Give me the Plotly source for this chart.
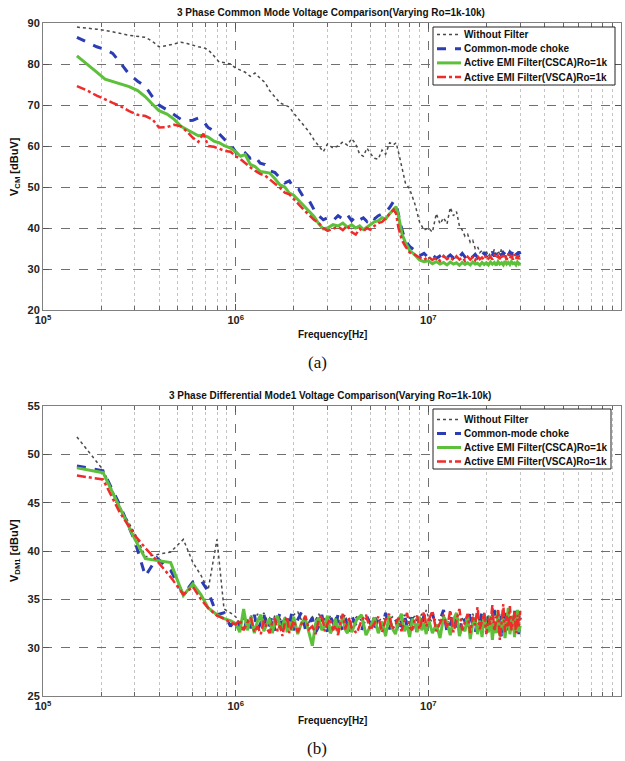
import plotly.graph_objects as go

# ---------------- data: plot (a) common-mode ----------------
freq_a_mhz = [0.15, 0.17, 0.19, 0.21, 0.23, 0.25, 0.28, 0.31, 0.34, 0.37,
              0.40, 0.44, 0.48, 0.52, 0.56, 0.60, 0.64, 0.68, 0.72, 0.77,
              0.82, 0.88, 0.94, 1.0, 1.06, 1.12, 1.19, 1.26, 1.34, 1.42,
              1.5, 1.6, 1.7, 1.8, 1.9, 2.0, 2.12, 2.25, 2.4, 2.55,
              2.7, 2.85, 3.0, 3.2, 3.4, 3.6, 3.8, 4.0, 4.2, 4.4,
              4.6, 4.8, 5.0, 5.25, 5.5, 5.75, 6.0, 6.3, 6.6, 6.8,
              7.0, 7.3, 7.6,
              8.0, 8.5, 9.0, 9.5, 10.0, 10.5, 11.0, 11.5, 12.0, 12.5,
              13.0, 13.5, 14.0, 14.5, 15.0, 15.5, 16.0, 16.5, 17.0, 17.5,
              18.0, 18.5, 19.0, 19.5, 20.0, 20.5, 21.0, 21.5, 22.0, 22.5,
              23.0, 23.5, 24.0, 24.5, 25.0, 25.5, 26.0, 26.5, 27.0, 27.5,
              28.0, 28.5, 29.0, 29.5, 30.0]

cm_without = [89.0, 88.8, 88.5, 88.2, 87.9, 87.5, 87.0, 86.8, 86.5, 85.5,
              84.2, 84.5, 85.0, 85.3, 85.0, 84.5, 84.2, 84.0, 83.5, 82.0,
              80.5, 80.3, 80.0, 79.0, 78.5, 78.0, 77.0, 77.8, 76.5, 75.5,
              73.5, 72.0, 70.5, 70.0, 69.5, 68.0, 66.5, 65.0, 63.5, 61.5,
              60.0, 58.6, 60.5, 59.5, 60.0, 61.0, 60.2, 61.8, 60.5, 58.0,
              57.5, 59.5, 58.2, 57.0, 56.8, 59.0, 58.0, 60.8, 60.3, 60.8,
              58.5, 55.0, 51.0,
              49.5, 46.0, 41.5, 39.5, 40.0, 39.0, 43.5, 41.0, 42.5, 41.0,
              45.0, 43.0, 44.0, 40.5, 39.5, 38.0, 38.5, 36.5, 37.0, 35.0,
              35.5, 34.0, 34.5, 33.5, 34.3, 33.0, 34.0, 33.2, 34.8, 33.0,
              34.5, 33.5, 35.0, 33.2, 34.0, 32.8, 33.8, 33.0, 34.2, 32.8,
              33.6, 33.0, 34.0, 32.9, 33.5]

cm_choke = [86.5, 85.3, 84.2, 83.5, 82.6, 80.5, 77.5, 75.8, 74.5, 72.0,
            70.0, 68.8, 67.5, 66.5, 66.2, 66.3, 66.8, 66.0, 64.5, 63.8,
            63.0, 61.5, 60.5, 58.5, 57.5, 58.3, 57.0, 57.5, 55.8, 55.5,
            54.0, 53.5, 52.2, 51.0, 51.5, 49.8, 49.5, 47.5, 46.8, 44.5,
            43.0, 42.0, 42.5, 41.8, 43.0, 42.2, 43.2, 41.8, 42.8, 42.0,
            42.5, 41.6, 42.8, 42.2, 43.0, 43.5, 43.8, 45.0, 46.5, 45.8,
            43.0, 39.5, 37.0,
            35.5, 34.5, 33.2, 33.8, 32.8, 33.5, 32.6, 33.2, 33.8, 32.8,
            33.4, 32.7, 33.6, 33.0, 33.8, 32.9, 33.3, 34.0, 33.0, 33.6,
            32.8, 33.7, 33.2, 34.1, 33.0, 33.8, 33.3, 34.2, 33.1, 33.9,
            33.4, 34.3, 33.2, 34.0, 33.5, 34.4, 33.3, 34.1, 33.6, 34.3,
            33.2, 34.0, 33.5, 34.2, 33.6]

cm_csca = [82.0, 80.0, 78.0, 76.3, 75.7, 75.2, 74.5, 73.5, 72.0, 70.2,
           68.6, 67.8, 66.5, 64.8, 64.0, 63.2, 62.5, 62.6, 62.2, 61.2,
           60.8, 60.0, 59.5, 58.6, 57.5, 57.9, 55.5, 55.0, 53.8, 53.6,
           53.4, 52.0, 50.5, 50.0, 48.5, 48.0, 46.8, 45.5, 44.0, 42.8,
           41.0, 39.8, 40.0, 40.8, 40.5, 41.2, 40.2, 40.8, 40.0, 40.5,
           39.6, 40.3, 40.8, 41.5, 41.8, 42.5, 42.2, 43.5, 44.6, 45.2,
           43.0, 38.5, 36.5,
           34.5, 33.5, 32.2, 31.8, 32.0, 31.3, 31.8, 31.2, 31.6, 31.0,
           31.7, 31.2, 31.5, 30.9, 31.6, 31.1, 31.5, 31.0, 31.7, 31.2,
           31.4, 30.9, 31.6, 31.1, 31.5, 31.0, 31.7, 31.2, 31.6, 30.9,
           31.8, 31.2, 31.5, 31.0, 31.9, 31.2, 31.6, 31.1, 31.8, 31.3,
           31.5, 31.0, 31.7, 31.2, 31.6]

cm_vsca = [74.6, 73.5, 72.3, 71.3, 70.5, 69.8, 68.5, 67.6, 67.3, 66.5,
           64.5, 64.6, 65.2, 64.8, 63.5, 62.0, 61.0, 63.0, 60.0, 59.8,
           59.3, 58.8, 58.6, 57.5, 56.8, 55.8, 54.8, 54.0, 53.2, 52.8,
           51.8, 50.8, 49.8, 48.6, 48.2, 47.0, 45.8, 44.5, 43.2, 42.0,
           41.2, 40.0, 39.3, 39.8, 40.3, 39.5, 40.6, 39.0, 38.4, 39.8,
           39.2, 40.0, 39.6, 40.5, 41.2, 41.5, 42.3, 43.5, 44.5, 43.5,
           40.0, 37.0, 35.5,
           34.0, 33.5, 32.8, 32.2, 33.0, 32.2, 32.8, 32.0, 33.2, 32.4,
           32.9, 32.1, 33.1, 32.3, 32.8, 32.0, 33.0, 32.3, 32.9, 32.1,
           33.2, 32.4, 32.8, 32.2, 33.4, 32.5, 33.0, 32.3, 33.5, 32.6,
           33.2, 32.4, 33.6, 32.5, 33.3, 32.2, 33.7, 32.6, 33.4, 32.3,
           33.6, 32.5, 33.3, 32.4, 33.2]

# ---------------- data: plot (b) differential-mode ----------------
freq_b_mhz = [0.15, 0.205, 0.25, 0.3, 0.34, 0.39, 0.46, 0.535, 0.6, 0.66,
              0.72, 0.8, 0.87, 0.94,
              1.0, 1.05, 1.1, 1.15, 1.2, 1.25, 1.3, 1.35, 1.4, 1.45,
              1.5, 1.55, 1.6, 1.65, 1.7, 1.75, 1.8, 1.85, 1.9, 1.95,
              2.0, 2.1, 2.2, 2.3, 2.4, 2.5, 2.6, 2.7, 2.8, 2.9,
              3.0, 3.1, 3.2, 3.3, 3.4, 3.5, 3.6, 3.7, 3.8, 3.9,
              4.0, 4.25, 4.5, 4.75, 5.0, 5.25, 5.5, 5.75, 6.0, 6.25,
              6.5, 6.75, 7.0, 7.25, 7.5, 7.75, 8.0, 8.25, 8.5, 8.75,
              9.0, 9.25, 9.5, 9.75,
              10.0, 10.5, 11.0, 11.5, 12.0, 12.5, 13.0, 13.5, 14.0, 14.5,
              15.0, 15.5, 16.0, 16.5, 17.0, 17.5, 18.0, 18.5, 19.0, 19.5,
              20.0, 20.5, 21.0, 21.5, 22.0, 22.5, 23.0, 23.5, 24.0, 24.5,
              25.0, 25.5, 26.0, 26.5, 27.0, 27.5, 28.0, 28.5, 29.0, 29.5,
              30.0]

dm_without = [51.8, 48.4, 44.6, 41.8, 39.4, 39.6, 39.9, 41.2, 38.8, 37.5,
              36.0, 41.2, 34.0, 33.6,
              33.2, 32.6, 33.0, 32.4, 33.3, 32.8, 33.5, 32.7, 33.6, 32.9,
              33.1, 32.5, 33.4, 32.8, 33.0, 32.6, 33.2, 32.7, 33.1, 32.5,
              33.4, 33.7, 32.8, 33.0, 32.6, 33.2, 32.9, 33.5, 32.7, 33.0,
              32.5, 33.3, 32.8, 33.1, 32.6, 33.2, 32.9, 33.4, 32.7, 33.0,
              32.6, 33.2, 32.8, 33.0, 32.5, 33.3, 32.7, 33.1, 32.9, 32.6,
              33.2, 32.8, 33.0, 32.5, 33.4, 32.7, 33.1, 32.9, 33.3, 32.6,
              33.0, 33.5, 32.8, 33.9,
              33.2, 32.6, 33.0, 32.8, 33.4, 32.5, 33.1, 32.9, 33.3, 32.7,
              33.0, 32.6, 33.2, 32.8, 33.5, 32.9, 33.1, 32.7, 33.4, 32.6,
              33.0, 33.3, 32.8, 33.6, 32.9, 33.2, 32.7, 33.5, 32.8, 33.1,
              33.4, 32.9, 33.6, 32.7, 33.2, 33.0, 33.5, 32.8, 33.3, 33.0,
              33.4]

dm_choke = [48.8, 48.3, 44.8, 41.0, 37.4, 39.3, 38.0, 35.5, 36.8, 37.0,
            35.8, 33.4, 33.6, 32.2,
            33.0, 32.2, 31.5, 33.2, 32.0, 33.4, 31.8, 32.6, 33.5, 31.9,
            32.4, 33.3, 31.7, 32.8, 33.6, 32.1, 31.6, 33.0, 32.3, 33.5,
            31.8, 32.9, 33.7, 31.9, 32.5, 33.1, 31.6, 32.2, 33.4, 32.0,
            31.7, 33.2, 32.6, 31.9, 33.5, 32.3, 31.8, 33.0, 32.4, 31.6,
            33.3, 32.1, 31.7, 33.4, 32.5, 31.8, 33.2, 32.0, 33.6, 31.9,
            32.7, 33.1, 31.6, 32.4, 33.5, 32.2, 31.8, 33.3, 32.6, 31.5,
            33.0, 32.3, 33.4, 31.9,
            32.5, 33.6, 31.8, 32.9, 33.9, 31.6, 32.4, 33.5, 32.0, 31.4,
            33.2, 32.7, 31.9, 33.8, 32.3, 31.5, 33.0, 32.6, 33.7, 31.7,
            32.2, 33.4, 31.3, 32.8, 33.9, 32.1, 31.6, 33.3, 30.9, 32.5,
            33.6, 31.8, 32.9, 33.2, 31.5, 32.4, 33.8, 31.9, 32.7, 31.4,
            33.1]

dm_csca = [48.6, 48.1, 44.5, 41.2, 39.2, 39.0, 38.8, 35.4, 36.6, 35.5,
           34.1, 33.4, 33.0, 32.8,
           32.5, 31.6, 34.0, 31.8, 33.2, 31.5, 32.8, 33.4, 31.7, 32.4,
           33.0, 31.5, 32.9, 33.3, 31.9, 32.2, 33.1, 31.6, 32.7, 31.8,
           33.2, 31.4, 32.6, 33.0, 31.7, 30.2, 32.5, 33.1, 31.8, 32.3,
           33.3, 31.5, 32.0, 33.0, 31.6, 32.4, 33.2, 31.9, 31.5, 32.8,
           31.6, 32.9, 33.4, 31.3, 32.2, 33.1, 31.5, 32.7, 31.2, 33.3,
           32.0, 31.4, 32.8, 33.5, 31.7, 32.3, 31.1, 33.0, 32.5, 31.6,
           33.2, 31.8, 32.6, 31.4,
           33.0, 31.5, 32.4, 31.0, 33.2, 32.6, 31.3, 32.9, 33.6, 31.2,
           32.2, 31.7, 33.4, 30.9, 32.5, 33.1, 31.4, 32.8, 31.1, 33.5,
           32.0, 31.6, 33.3, 30.8, 32.7, 31.5, 33.8, 31.2, 32.4, 33.0,
           31.0, 32.6, 34.1, 31.4, 32.2, 33.3, 31.1, 32.8, 33.9, 31.6,
           32.3]

dm_vsca = [47.8, 47.4, 44.0, 41.6, 40.3, 39.0, 37.3, 35.5, 36.3, 35.0,
           34.1, 33.3, 33.0, 32.6,
           32.4, 32.9, 31.8, 32.6, 33.1, 31.6, 32.2, 31.4, 32.8, 32.0,
           31.5, 32.7, 33.0, 31.7, 32.3, 31.2, 32.6, 33.2, 31.5, 32.1,
           32.8, 31.6, 32.4, 33.3, 31.9, 32.2, 31.4, 32.9, 33.4, 31.7,
           32.5, 33.0, 31.8, 32.3, 31.3, 32.7, 33.5, 31.9, 32.6, 33.1,
           32.0, 31.5, 32.8, 33.4, 31.8, 32.5, 33.2, 31.6, 32.9, 33.5,
           31.9, 32.4, 33.1, 31.7, 32.6, 33.6, 32.1, 31.8, 32.9, 33.3,
           31.9, 32.7, 33.7, 32.2,
           32.8, 33.8, 31.7, 32.5, 33.4, 32.0, 33.9, 31.6, 32.9, 34.0,
           31.8, 32.6, 33.5, 31.5, 33.2, 32.3, 34.2, 31.9, 32.7, 33.6,
           31.4, 33.0, 32.4, 34.4, 31.7, 32.8, 33.9, 30.8, 32.5, 34.5,
           31.6, 33.3, 32.1, 34.3, 31.8, 32.9, 33.7, 31.5, 33.4, 32.2,
           33.8]

series_names = ["Without Filter", "Common-mode choke",
                "Active EMI Filter(CSCA)Ro=1k", "Active EMI Filter(VSCA)Ro=1k"]
x_tick_vals = [1e5, 1e6, 1e7, 1e8]
x_tick_text = ["10<sup>5</sup>", "10<sup>6</sup>", "10<sup>7</sup>", "10<sup>8</sup>"]
ya_ticks = [20, 30, 40, 50, 60, 70, 80, 90]
yb_ticks = [25, 30, 35, 40, 45, 50, 55]

# ---------------- styling / layout constants ----------------
styles = [
    dict(color="#4a4a4a", width=1.5, dash="dot"),
    dict(color="#2b3cb4", width=3, dash="dash"),
    dict(color="#5cc03a", width=3, dash="solid"),
    dict(color="#ef2b2b", width=2.5, dash="dashdot"),
]
FONT = "Liberation Sans, Arial, sans-serif"
W, H = 625, 761
X0, X1 = 43, 621
A_TOP, A_BOT = 23, 310
B_TOP, B_BOT = 406, 696


def px_x(p):
    return p / W


def px_y(p):
    return 1 - p / H


minor_vals = [k * 10 ** d for d in (5, 6, 7) for k in range(2, 10)]

fig = go.Figure()

hz_a = [f * 1e6 for f in freq_a_mhz]
hz_b = [f * 1e6 for f in freq_b_mhz]

for name, ys, st in zip(series_names, [cm_without, cm_choke, cm_csca, cm_vsca], styles):
    fig.add_trace(go.Scatter(x=hz_a, y=ys, mode="lines", name=name, line=st,
                             xaxis="x", yaxis="y", showlegend=False))
for name, ys, st in zip(series_names, [dm_without, dm_choke, dm_csca, dm_vsca], styles):
    fig.add_trace(go.Scatter(x=hz_b, y=ys, mode="lines", name=name, line=st,
                             xaxis="x2", yaxis="y2", showlegend=False))


def xaxis(anchor):
    return dict(
        type="log", range=[5, 8], domain=[px_x(X0), px_x(X1)], anchor=anchor,
        automargin=False,
        tickmode="array", tickvals=x_tick_vals, ticktext=x_tick_text,
        showgrid=True, gridcolor="#707070", griddash="dash", gridwidth=1,
        minor=dict(tickmode="array", tickvals=minor_vals, showgrid=True,
                   gridcolor="#c4c4c4", griddash="dot", gridwidth=1,
                   ticks="inside", ticklen=4, tickcolor="#666"),
        ticks="inside", ticklen=6, tickcolor="#555",
        showline=True, linecolor="#808080", linewidth=1, mirror="allticks",
        zeroline=False,
        tickfont=dict(family=FONT, size=11, color="#222", weight="bold"),
    )


def yaxis(anchor, top, bot, rng, ticks):
    return dict(
        range=rng, domain=[px_y(bot), px_y(top)], anchor=anchor,
        automargin=False,
        tickmode="array", tickvals=ticks,
        showgrid=True, gridcolor="#707070", griddash="dash", gridwidth=1,
        ticks="inside", ticklen=6, tickcolor="#555",
        showline=True, linecolor="#808080", linewidth=1, mirror="allticks",
        zeroline=False,
        tickfont=dict(family=FONT, size=11, color="#222", weight="bold"),
    )


fig.update_layout(
    width=W, height=H, margin=dict(l=0, r=0, t=0, b=0, autoexpand=False),
    paper_bgcolor="white", plot_bgcolor="white", showlegend=False,
    xaxis=xaxis("y"), yaxis=yaxis("x", A_TOP, A_BOT, [20, 90], ya_ticks),
    xaxis2=xaxis("y2"), yaxis2=yaxis("x2", B_TOP, B_BOT, [25, 55], yb_ticks),
)

# ---------------- legend boxes (keys drawn as legend decorations) ----------------
legend_boxes = [
    dict(left=433, right=615, top=27, bottom=85, first_row=34.5, step=14.2),
    dict(left=433, right=611, top=409, bottom=469, first_row=419.5, step=14.0),
]
shapes = []
ann = []
leg_font = dict(family=FONT, size=10, color="#111", weight="bold")
for box in legend_boxes:
    shapes.append(dict(type="rect", xref="paper", yref="paper",
                       x0=px_x(box["left"]), x1=px_x(box["right"]),
                       y0=px_y(box["bottom"]), y1=px_y(box["top"]),
                       line=dict(color="#222", width=1), fillcolor="white",
                       layer="above"))
    for i, (name, st) in enumerate(zip(series_names, styles)):
        ry = box["first_row"] + i * box["step"]
        shapes.append(dict(type="line", xref="paper", yref="paper",
                           x0=px_x(box["left"] + 4), x1=px_x(box["left"] + 28),
                           y0=px_y(ry), y1=px_y(ry),
                           line=dict(color=st["color"], width=st["width"],
                                     dash=st["dash"]),
                           layer="above"))
        ann.append(dict(text=name, x=px_x(box["left"] + 29), y=px_y(ry),
                        xanchor="left", yanchor="middle", font=leg_font))

title_font = dict(family=FONT, size=10, color="#111", weight="bold")
ann += [
    dict(text="3 Phase Common Mode Voltage Comparison(Varying Ro=1k-10k)",
         x=px_x(331), y=px_y(12), font=title_font),
    dict(text="3 Phase Differential Mode1 Voltage Comparison(Varying Ro=1k-10k)",
         x=px_x(330), y=px_y(395), font=title_font),
    dict(text="Frequency[Hz]", x=px_x(332), y=px_y(335), font=title_font),
    dict(text="Frequency[Hz]", x=px_x(332), y=px_y(720), font=title_font),
    dict(text="V<sub>CM</sub> [dBuV]", x=px_x(15), y=px_y(167), textangle=-90,
         font=dict(family=FONT, size=11, color="#111", weight="bold")),
    dict(text="V<sub>DM1</sub> [dBuV]", x=px_x(15), y=px_y(551), textangle=-90,
         font=dict(family=FONT, size=11, color="#111", weight="bold")),
    dict(text="(a)", x=px_x(317), y=px_y(362),
         font=dict(family="Liberation Serif, Times New Roman, serif", size=17, color="#111")),
    dict(text="(b)", x=px_x(317), y=px_y(748),
         font=dict(family="Liberation Serif, Times New Roman, serif", size=17, color="#111")),
]
for a in ann:
    a.update(xref="paper", yref="paper", showarrow=False)
    a.setdefault("xanchor", "center")
    a.setdefault("yanchor", "middle")
fig.update_layout(annotations=ann, shapes=shapes)

fig.write_html(
    "out.html",
    config={"displayModeBar": False, "staticPlot": True},
    post_script="document.body.style.margin='0';document.body.style.padding='0';"
                "document.documentElement.style.overflow='hidden';",
)
